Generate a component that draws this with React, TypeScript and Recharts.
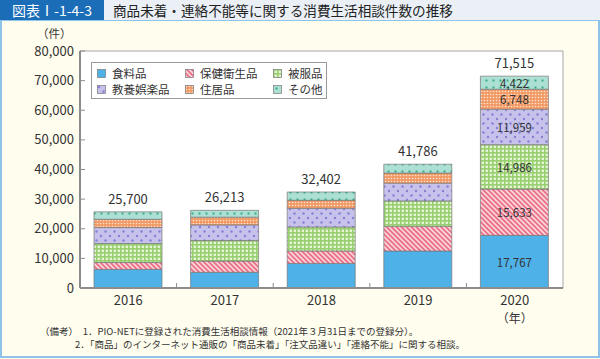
import { BarChart, Bar, XAxis, YAxis, LabelList, Legend, ReferenceArea, CartesianGrid } from "recharts";

const FONT = '"Noto Sans CJK JP", "Noto Sans", sans-serif';
const TEXT = "#333";
const AXIS = "#8c8c8c";
const EDGE = "#777";

const years = ["2016", "2017", "2018", "2019", "2020"];
const food = [6300, 5300, 8300, 12500, 17767];
const health = [2300, 3800, 4200, 8300, 15633];
const clothing = [6400, 6900, 8100, 8600, 14986];
const culture = [5400, 5300, 6300, 6000, 11959];
const housing = [2800, 2600, 2700, 3400, 6748];
const other = [2500, 2313, 2802, 2986, 4422];
const totals = [25700, 26213, 32402, 41786, 71515];
const yTicks = [0, 10000, 20000, 30000, 40000, 50000, 60000, 70000, 80000];

const SERIES = [
  { key: "food", name: "食料品", fill: "#4eb1e7" },
  { key: "health", name: "保健衛生品", fill: "url(#pHealth)" },
  { key: "clothing", name: "被服品", fill: "url(#pCloth)" },
  { key: "culture", name: "教養娯楽品", fill: "url(#pCulture)" },
  { key: "housing", name: "住居品", fill: "url(#pHousing)" },
  { key: "other", name: "その他", fill: "url(#pOther)" },
];

const data = years.map((year, i) => ({
  year,
  food: food[i],
  health: health[i],
  clothing: clothing[i],
  culture: culture[i],
  housing: housing[i],
  other: other[i],
  total: totals[i],
}));

const W = 600;
const H = 359;
const MARGIN = { top: 51, right: 37, bottom: 41, left: 20 };
const Y_W = 60;
const BAND = (W - MARGIN.left - Y_W - MARGIN.right) / years.length;

const fmt = (v: number) => v.toLocaleString("en-US");

function Patterns() {
  return (
    <svg width={0} height={0} style={{ position: "absolute" }}>
      <defs>
        <pattern id="pHealth" width={3.5} height={3.5} patternUnits="userSpaceOnUse" patternTransform="rotate(-45)">
          <rect width={3.5} height={3.5} fill="#fad6dc" />
          <rect width={1.8} height={3.5} fill="#ea7088" />
        </pattern>
        <pattern id="pCloth" width={4} height={4} patternUnits="userSpaceOnUse">
          <rect width={4} height={4} fill="#e6f4d6" />
          <rect width={4} height={1.6} fill="#98d070" />
          <rect width={1.6} height={4} fill="#98d070" />
        </pattern>
        <pattern id="pCulture" width={9} height={9} patternUnits="userSpaceOnUse">
          <rect width={9} height={9} fill="#c7c2eb" />
          <circle cx={2} cy={2} r={1.2} fill="#8481d6" />
          <circle cx={6.5} cy={6.5} r={1.2} fill="#8481d6" />
        </pattern>
        <pattern id="pHousing" width={3} height={3} patternUnits="userSpaceOnUse">
          <rect width={3} height={3} fill="#f29a66" />
          <circle cx={1.5} cy={1.5} r={0.8} fill="#fde3d0" />
        </pattern>
        <pattern id="pOther" width={7} height={7} patternUnits="userSpaceOnUse">
          <rect width={7} height={7} fill="#ace0d4" />
          <rect x={2.5} y={2.5} width={2} height={2} fill="#38ad84" />
        </pattern>
      </defs>
    </svg>
  );
}

const segmentLabel = (props: any) => {
  const { x, y, width, height, index, value } = props;
  if (index !== years.length - 1) return null;
  return (
    <text
      x={x + width / 2}
      y={y + height / 2}
      textAnchor="middle"
      dominantBaseline="central"
      fill={TEXT}
      fontSize={11.5}
      fontFamily={FONT}
    >
      {fmt(value)}
    </text>
  );
};

const totalLabel = (props: any) => {
  const { x, y, width, value } = props;
  return (
    <text x={x + width / 2} y={y - 8} textAnchor="middle" fill={TEXT} fontSize={13} fontFamily={FONT}>
      {fmt(value)}
    </text>
  );
};

const yearTick = (props: any) => {
  const { x, y, payload, index } = props;
  const last = index === years.length - 1;
  return (
    <g>
      {!last && <line x1={x + BAND / 2} x2={x + BAND / 2} y1={y} y2={y - 5} stroke={AXIS} strokeWidth={1} />}
      <text x={x} y={y + 17} textAnchor="middle" fill={TEXT} fontSize={13} fontFamily={FONT}>
        {payload.value}
      </text>
      {last && (
        <text x={x} y={y + 35} textAnchor="middle" fill={TEXT} fontSize={12} fontFamily={FONT}>
          （年）
        </text>
      )}
    </g>
  );
};

const renderLegend = () => (
  <div
    style={{
      boxSizing: "border-box",
      width: 236,
      height: 37,
      border: "1px solid #999",
      background: "#fff",
      padding: "2px 0 0 5px",
      display: "grid",
      gridTemplateColumns: "88px 88px 54px",
      gridAutoRows: "16px",
      fontFamily: FONT,
      fontSize: 11.5,
      color: TEXT,
    }}
  >
    {SERIES.map((s) => (
      <div key={s.key} style={{ display: "flex", alignItems: "center", whiteSpace: "nowrap" }}>
        <svg width={9} height={9} style={{ marginRight: 6 }}>
          <rect x={0.5} y={0.5} width={8} height={8} fill={s.fill} stroke={EDGE} strokeWidth={0.7} />
        </svg>
        {s.name}
      </div>
    ))}
  </div>
);

export default function App() {
  return (
    <div
      style={{
        position: "absolute",
        left: 0,
        top: 0,
        width: W,
        height: H,
        background: "#fffdee",
        fontFamily: FONT,
        overflow: "hidden",
      }}
    >
      <Patterns />
      <div style={{ position: "absolute", left: 0, top: 0, width: W, height: 20, background: "#eaf0f6" }} />
      <div
        style={{
          position: "absolute",
          left: 0,
          top: 0,
          width: 104,
          height: 20,
          background: "#1b6db7",
          color: "#fff",
          fontSize: 14,
          lineHeight: "20px",
          textAlign: "center",
        }}
      >
        図表Ⅰ-1-4-3
      </div>
      <div
        style={{
          position: "absolute",
          left: 113,
          top: 0,
          height: 20,
          lineHeight: "20px",
          fontSize: 13.6,
          color: "#222",
          whiteSpace: "nowrap",
        }}
      >
        商品未着・連絡不能等に関する消費生活相談件数の推移
      </div>
      <div
        style={{
          position: "absolute",
          left: 0,
          top: 20,
          width: W,
          height: 338,
          boxSizing: "border-box",
          border: "2px solid #8ec4ea",
          borderTop: "1px solid #8ec4ea",
        }}
      />
      <div
        style={{
          position: "absolute",
          left: 37,
          top: 28,
          fontSize: 11.5,
          lineHeight: "11.5px",
          color: TEXT,
          whiteSpace: "nowrap",
        }}
      >
        （件）
      </div>
      <div style={{ position: "absolute", left: 0, top: 0 }}>
        <BarChart width={W} height={H} data={data} margin={MARGIN} barSize={68}>
          <CartesianGrid horizontal={false} vertical={false} fill="#fff" />
          <ReferenceArea y1={0} y2={80000} fill="none" stroke="#a6a6a6" strokeWidth={1} ifOverflow="visible" />
          <XAxis
            dataKey="year"
            tick={yearTick}
            tickLine={false}
            tickSize={0}
            tickMargin={0}
            height={30}
            interval={0}
            axisLine={{ stroke: AXIS, strokeWidth: 2 }}
          />
          <YAxis
            width={Y_W}
            domain={[0, 80000]}
            ticks={yTicks}
            tickFormatter={fmt}
            tickSize={-5}
            tickMargin={11}
            tickLine={{ stroke: AXIS }}
            axisLine={{ stroke: AXIS, strokeWidth: 2 }}
            tick={{ fill: TEXT, fontSize: 13, fontFamily: FONT }}
          />
          <Legend
            layout="horizontal"
            verticalAlign="middle"
            align="center"
            content={renderLegend}
            wrapperStyle={{ top: 62, left: 91, width: 236, height: 37 }}
          />
          {SERIES.map((s) => (
            <Bar
              key={s.key}
              dataKey={s.key}
              name={s.name}
              stackId="a"
              fill={s.fill}
              stroke={EDGE}
              strokeWidth={0.7}
              isAnimationActive={false}
            >
              <LabelList dataKey={s.key} content={segmentLabel} />
              {s.key === "other" && <LabelList dataKey="total" content={totalLabel} />}
            </Bar>
          ))}
        </BarChart>
      </div>
      <div
        style={{
          position: "absolute",
          left: 40,
          top: 325,
          fontSize: 9.5,
          lineHeight: "13px",
          color: TEXT,
          whiteSpace: "nowrap",
        }}
      >
        <div>（備考）　1．PIO-NETに登録された消費生活相談情報（2021年３月31日までの登録分）。</div>
        <div style={{ paddingLeft: 35 }}>2．「商品」のインターネット通販の「商品未着」「注文品違い」「連絡不能」に関する相談。</div>
      </div>
    </div>
  );
}
